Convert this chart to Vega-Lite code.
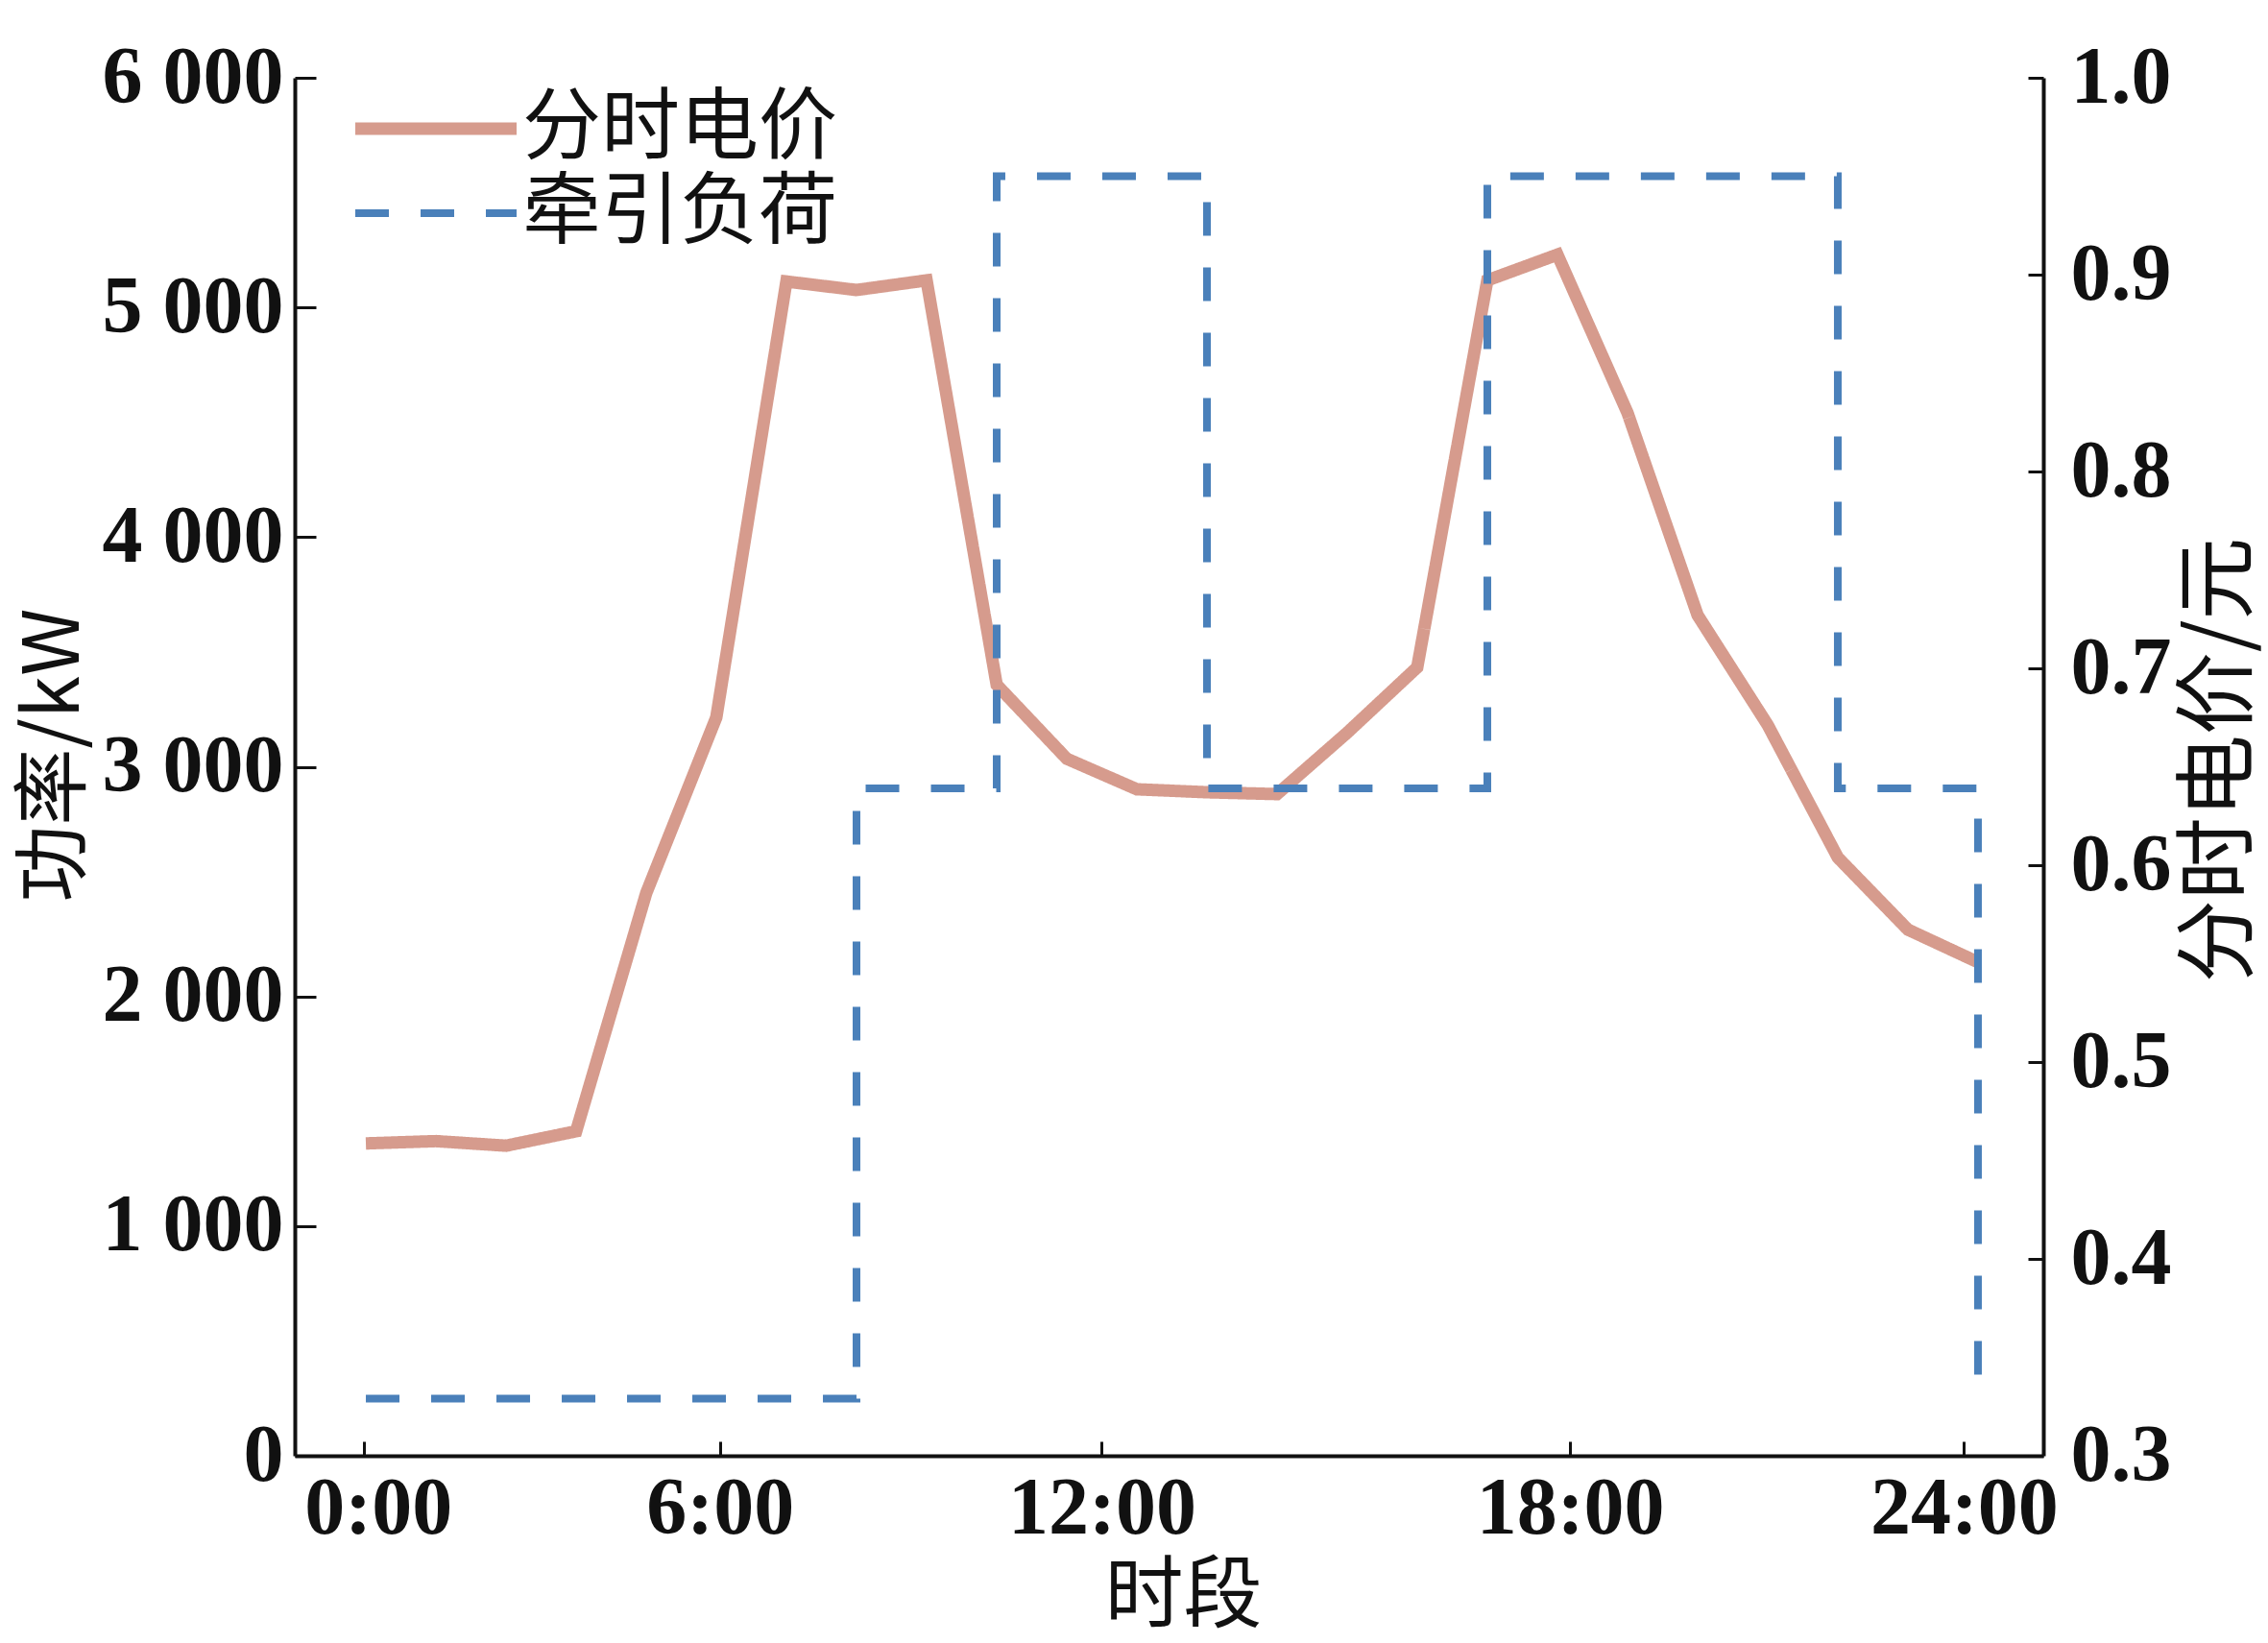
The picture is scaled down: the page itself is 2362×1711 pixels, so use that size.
{
  "$schema": "https://vega.github.io/schema/vega-lite/v6.json",
  "width": 1821,
  "height": 1435,
  "autosize": {"type": "none"},
  "padding": {"left": 307, "top": 81, "right": 234, "bottom": 195},
  "background": "white",
  "config": {
    "view": {"stroke": null},
    "axis": {
      "grid": false,
      "domainColor": "#111111",
      "domainWidth": 4,
      "tickColor": "#111111",
      "tickWidth": 3,
      "labelFont": "Liberation Serif",
      "labelFontWeight": "bold",
      "labelFontSize": 84,
      "labelColor": "#111111",
      "labelOverlap": false,
      "labelBound": false,
      "labelFlush": false,
      "labelLimit": 0,
      "titleLimit": 0,
      "titleFont": "Noto Sans CJK SC",
      "titleFontWeight": "normal",
      "titleFontSize": 80,
      "titleColor": "#111111",
      "titleAlign": "center",
      "titleBaseline": "middle"
    },
    "legend": {
      "orient": "none",
      "legendX": 106,
      "legendY": 12,
      "title": null,
      "symbolType": "stroke",
      "symbolSize": 28224,
      "symbolStrokeWidth": 10,
      "symbolOpacity": 1,
      "labelFont": "Noto Sans CJK SC",
      "labelFontSize": 82,
      "labelColor": "#111111",
      "labelOffset": 49,
      "labelLimit": 0,
      "rowPadding": 6,
      "padding": 0
    }
  },
  "resolve": {"scale": {"y": "independent"}},
  "layer": [
    {
      "data": {
        "values": [
          {"hour": 0, "power": 1360, "series": "分时电价"},
          {"hour": 1, "power": 1370, "series": "分时电价"},
          {"hour": 2, "power": 1350, "series": "分时电价"},
          {"hour": 3, "power": 1413, "series": "分时电价"},
          {"hour": 4, "power": 2450, "series": "分时电价"},
          {"hour": 5, "power": 3215, "series": "分时电价"},
          {"hour": 6, "power": 5113, "series": "分时电价"},
          {"hour": 7, "power": 5076, "series": "分时电价"},
          {"hour": 8, "power": 5118, "series": "分时电价"},
          {"hour": 9, "power": 3357, "series": "分时电价"},
          {"hour": 10, "power": 3035, "series": "分时电价"},
          {"hour": 11, "power": 2902, "series": "分时电价"},
          {"hour": 12, "power": 2889, "series": "分时电价"},
          {"hour": 13, "power": 2881, "series": "分时电价"},
          {"hour": 14, "power": 3148, "series": "分时电价"},
          {"hour": 15, "power": 3433, "series": "分时电价"},
          {"hour": 16, "power": 5118, "series": "分时电价"},
          {"hour": 17, "power": 5230, "series": "分时电价"},
          {"hour": 18, "power": 4541, "series": "分时电价"},
          {"hour": 19, "power": 3660, "series": "分时电价"},
          {"hour": 20, "power": 3182, "series": "分时电价"},
          {"hour": 21, "power": 2605, "series": "分时电价"},
          {"hour": 22, "power": 2291, "series": "分时电价"},
          {"hour": 23, "power": 2149, "series": "分时电价"}
        ]
      },
      "mark": {"type": "line", "strokeWidth": 13, "strokeCap": "butt", "strokeJoin": "miter", "opacity": 1},
      "encoding": {
        "x": {
          "field": "hour",
          "type": "quantitative",
          "scale": {"domain": [-1.014, 23.932], "nice": false, "zero": false},
          "axis": {
            "orient": "bottom",
            "values": [-0.03, 5.05, 10.5, 17.18, 22.8],
            "labelExpr": "datum.value < 1 ? '0:00' : datum.value < 7 ? '6:00' : datum.value < 12 ? '12:00' : datum.value < 20 ? '18:00' : '24:00'",
            "labelOffset": {"condition": {"test": "datum.value < 1", "value": 15}, "value": 0},
            "tickSize": -15,
            "labelPadding": 29,
            "title": "时段",
            "titleX": 925,
            "titleY": 146,
            "titleFontSize": 82
          }
        },
        "y": {
          "field": "power",
          "type": "quantitative",
          "scale": {"domain": [0, 6000], "nice": false, "zero": true},
          "axis": {
            "orient": "left",
            "values": [0, 1000, 2000, 3000, 4000, 5000, 6000],
            "labelExpr": "replace(format(datum.value, ','), ',', ' ')",
            "tickSize": -22,
            "labelPadding": 34,
            "title": "功率/kW",
            "titleAngle": -90,
            "titleX": -250,
            "titleY": 705
          }
        },
        "color": {
          "field": "series",
          "type": "nominal",
          "scale": {"domain": ["分时电价", "牵引负荷"], "range": ["#D69B8D", "#4A80BA"]},
          "legend": {
            "encode": {
              "symbols": {
                "update": {
                  "strokeWidth": {"signal": "datum.value === '分时电价' ? 13 : 8"}
                }
              }
            }
          }
        },
        "strokeDash": {
          "field": "series",
          "type": "nominal",
          "scale": {"domain": ["分时电价", "牵引负荷"], "range": [[1, 0], [35, 33]]}
        }
      }
    },
    {
      "data": {
        "values": [
          {"hour": 0, "price": 0.329, "series": "牵引负荷"},
          {"hour": 1, "price": 0.329, "series": "牵引负荷"},
          {"hour": 2, "price": 0.329, "series": "牵引负荷"},
          {"hour": 3, "price": 0.329, "series": "牵引负荷"},
          {"hour": 4, "price": 0.329, "series": "牵引负荷"},
          {"hour": 5, "price": 0.329, "series": "牵引负荷"},
          {"hour": 6, "price": 0.329, "series": "牵引负荷"},
          {"hour": 7, "price": 0.639, "series": "牵引负荷"},
          {"hour": 8, "price": 0.639, "series": "牵引负荷"},
          {"hour": 9, "price": 0.95, "series": "牵引负荷"},
          {"hour": 10, "price": 0.95, "series": "牵引负荷"},
          {"hour": 11, "price": 0.95, "series": "牵引负荷"},
          {"hour": 12, "price": 0.639, "series": "牵引负荷"},
          {"hour": 13, "price": 0.639, "series": "牵引负荷"},
          {"hour": 14, "price": 0.639, "series": "牵引负荷"},
          {"hour": 15, "price": 0.639, "series": "牵引负荷"},
          {"hour": 16, "price": 0.95, "series": "牵引负荷"},
          {"hour": 17, "price": 0.95, "series": "牵引负荷"},
          {"hour": 18, "price": 0.95, "series": "牵引负荷"},
          {"hour": 19, "price": 0.95, "series": "牵引负荷"},
          {"hour": 20, "price": 0.95, "series": "牵引负荷"},
          {"hour": 21, "price": 0.639, "series": "牵引负荷"},
          {"hour": 22, "price": 0.639, "series": "牵引负荷"},
          {"hour": 23, "price": 0.329, "series": "牵引负荷"}
        ]
      },
      "mark": {"type": "line", "interpolate": "step-after", "strokeWidth": 8, "strokeCap": "butt", "opacity": 1},
      "encoding": {
        "x": {"field": "hour", "type": "quantitative"},
        "y": {
          "field": "price",
          "type": "quantitative",
          "scale": {"domain": [0.3, 1.0], "nice": false, "zero": false},
          "axis": {
            "orient": "right",
            "values": [0.3, 0.4, 0.5, 0.6, 0.7, 0.8, 0.9, 1.0],
            "format": ".1f",
            "tickSize": -16,
            "labelPadding": 44,
            "title": "分时电价/元",
            "titleAngle": -90,
            "titleX": 184,
            "titleY": 710,
            "titleFontSize": 86
          }
        },
        "color": {"field": "series", "type": "nominal"},
        "strokeDash": {"field": "series", "type": "nominal"}
      }
    }
  ]
}
